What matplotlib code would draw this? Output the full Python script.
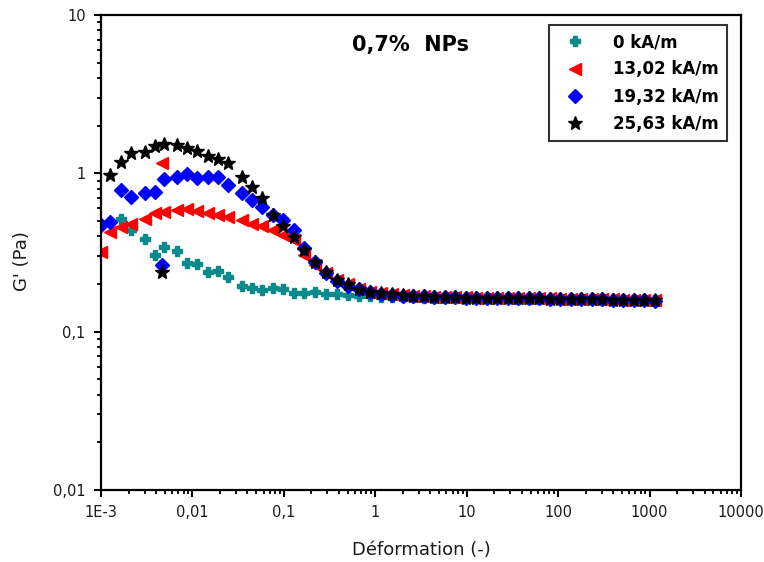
import numpy as np
import matplotlib
matplotlib.use('Agg')
from matplotlib import pyplot as plt
from matplotlib.ticker import LogLocator, NullFormatter

# strain sweep (common grid of the four measurements)
strain = [1.25e-3, 1.65e-3, 2.13e-3, 3.0e-3, 3.9e-3, 4.9e-3, 6.8e-3, 8.7e-3,
          0.0112, 0.0148, 0.0191, 0.0245, 0.035, 0.045, 0.058, 0.076, 0.098,
          0.129, 0.166, 0.219, 0.29, 0.38, 0.50, 0.665, 0.877, 1.16,
          1.53, 1.99, 2.59, 3.38, 4.41, 5.74, 7.48, 9.75, 12.7, 16.6, 21.6,
          28.1, 36.6, 47.8, 62.2, 81.1, 106, 138, 179, 234, 305, 397, 518,
          675, 879, 1146]

g_0 = [np.nan, 0.515, 0.438, 0.384, 0.306, 0.341, 0.325, 0.273, 0.268, 0.239,
       0.243, 0.222, 0.194, 0.188, 0.184, 0.190, 0.187, 0.176, 0.175, 0.177,
       0.173, 0.172, 0.170, 0.169, 0.167, 0.166,
       0.166, 0.165, 0.165, 0.164, 0.164, 0.164, 0.163, 0.163, 0.163, 0.162,
       0.162, 0.162, 0.161, 0.161, 0.161, 0.161, 0.160, 0.160, 0.160, 0.160,
       0.159, 0.159, 0.159, 0.158, 0.158, 0.158]

g_13 = [0.428, 0.461, 0.479, 0.513, 0.560, 0.573, 0.587, 0.593, 0.581, 0.560,
        0.546, 0.528, 0.508, 0.479, 0.465, 0.439, 0.408, 0.379, 0.305, 0.264,
        0.234, 0.212, 0.200, 0.186, 0.179, 0.176,
        0.172, 0.170, 0.168, 0.167, 0.166, 0.166, 0.165, 0.165, 0.164, 0.164,
        0.163, 0.163, 0.163, 0.162, 0.162, 0.162, 0.161, 0.161, 0.161, 0.160,
        0.160, 0.160, 0.159, 0.159, 0.159, 0.158]

g_19 = [0.495, 0.786, 0.713, 0.749, 0.766, 0.918, 0.945, 0.990, 0.931, 0.945,
        0.953, 0.845, 0.749, 0.679, 0.611, 0.546, 0.508, 0.439, 0.336, 0.275,
        0.235, 0.210, 0.195, 0.185, 0.178, 0.174,
        0.171, 0.169, 0.168, 0.167, 0.166, 0.165, 0.165, 0.164, 0.164, 0.164,
        0.163, 0.163, 0.162, 0.162, 0.162, 0.161, 0.161, 0.161, 0.160, 0.160,
        0.160, 0.159, 0.159, 0.158, 0.158, 0.157]

g_25 = [0.977, 1.186, 1.34, 1.37, 1.49, 1.53, 1.51, 1.44, 1.39, 1.28, 1.23,
        1.16, 0.953, 0.824, 0.696, 0.546, 0.465, 0.398, 0.328, 0.277, 0.239,
        0.212, 0.200, 0.185, 0.179, 0.176,
        0.173, 0.170, 0.168, 0.167, 0.166, 0.165, 0.165, 0.164, 0.164, 0.163,
        0.163, 0.163, 0.162, 0.162, 0.162, 0.161, 0.161, 0.161, 0.160, 0.160,
        0.160, 0.159, 0.159, 0.159, 0.158, 0.158]

# extra points (first point at the axis edge, glitch around 5E-3)
extra_13_x = [1.0e-3, 4.7e-3]
extra_13_y = [0.32, 1.16]
extra_19_x = [1.0e-3, 4.7e-3]
extra_19_y = [0.47, 0.262]
extra_25_x = [4.7e-3]
extra_25_y = [0.239]

labels = ["0 kA/m", "13,02 kA/m", "19,32 kA/m", "25,63 kA/m"]
x_ticks = [1e-3, 1e-2, 1e-1, 1, 10, 100, 1000, 10000]
x_ticklabels = ["1E-3", "0,01", "0,1", "1", "10", "100", "1000", "10000"]
y_ticks = [0.01, 0.1, 1, 10]
y_ticklabels = ["0,01", "0,1", "1", "10"]

fig = plt.figure(figsize=(7.64, 5.62), dpi=100)
ax = fig.add_axes([101/764, 1 - 490/562, 640/764, 475/562])

ax.plot(strain, g_0, ls='none', marker='P', ms=7, color='#0a8a8a', mec='#0a8a8a', label=labels[0])
ax.plot(strain + extra_13_x, g_13 + extra_13_y, ls='none', marker='<', ms=8.5,
        color='#ff0000', mec='#ff0000', label=labels[1])
ax.plot(strain + extra_19_x, g_19 + extra_19_y, ls='none', marker='D', ms=7.5,
        color='#0000ff', mec='#0000ff', label=labels[2])
ax.plot(strain + extra_25_x, g_25 + extra_25_y, ls='none', marker='*', ms=10,
        color='black', mec='black', label=labels[3])

ax.set_xscale('log')
ax.set_yscale('log')
ax.set_xlim(1e-3, 1e4)
ax.set_ylim(0.01, 10)
ax.set_xticks(x_ticks)
ax.set_xticklabels(x_ticklabels)
ax.set_yticks(y_ticks)
ax.set_yticklabels(y_ticklabels)
ax.xaxis.set_minor_locator(LogLocator(base=10, subs=np.arange(2, 10)))
ax.yaxis.set_minor_locator(LogLocator(base=10, subs=np.arange(2, 10)))
ax.xaxis.set_minor_formatter(NullFormatter())
ax.yaxis.set_minor_formatter(NullFormatter())

for s in ax.spines.values():
    s.set_linewidth(1.6)
ax.tick_params(which='major', direction='out', length=5, width=1.5,
               labelsize=10.5, colors='black', labelcolor='#1a1a1a', pad=6)
ax.tick_params(which='minor', direction='out', length=3, width=1.3)

# axis titles placed like in the original figure
fig.text(421/764, 1 - 550/562, "Déformation (-)", ha='center', va='center',
         fontsize=13, color='#1a1a1a')
fig.text(22/764, 1 - 261/562, "G' (Pa)", ha='center', va='center', rotation=90,
         fontsize=13, color='#1a1a1a')

ax.text(0.483, 0.937, "0,7%  NPs", transform=ax.transAxes, ha='center', va='center',
        fontsize=15, fontweight='bold')

leg = ax.legend(loc='upper right', bbox_to_anchor=(0.978, 0.979), borderaxespad=0,
                frameon=True, fancybox=False, edgecolor='black',
                prop={'weight': 'bold', 'size': 12}, handlelength=2.1,
                handletextpad=1.2, labelspacing=0.55, borderpad=0.5)
leg.get_frame().set_linewidth(1.5)

fig.savefig("out.png", dpi=100, facecolor='w')
plt.close()
